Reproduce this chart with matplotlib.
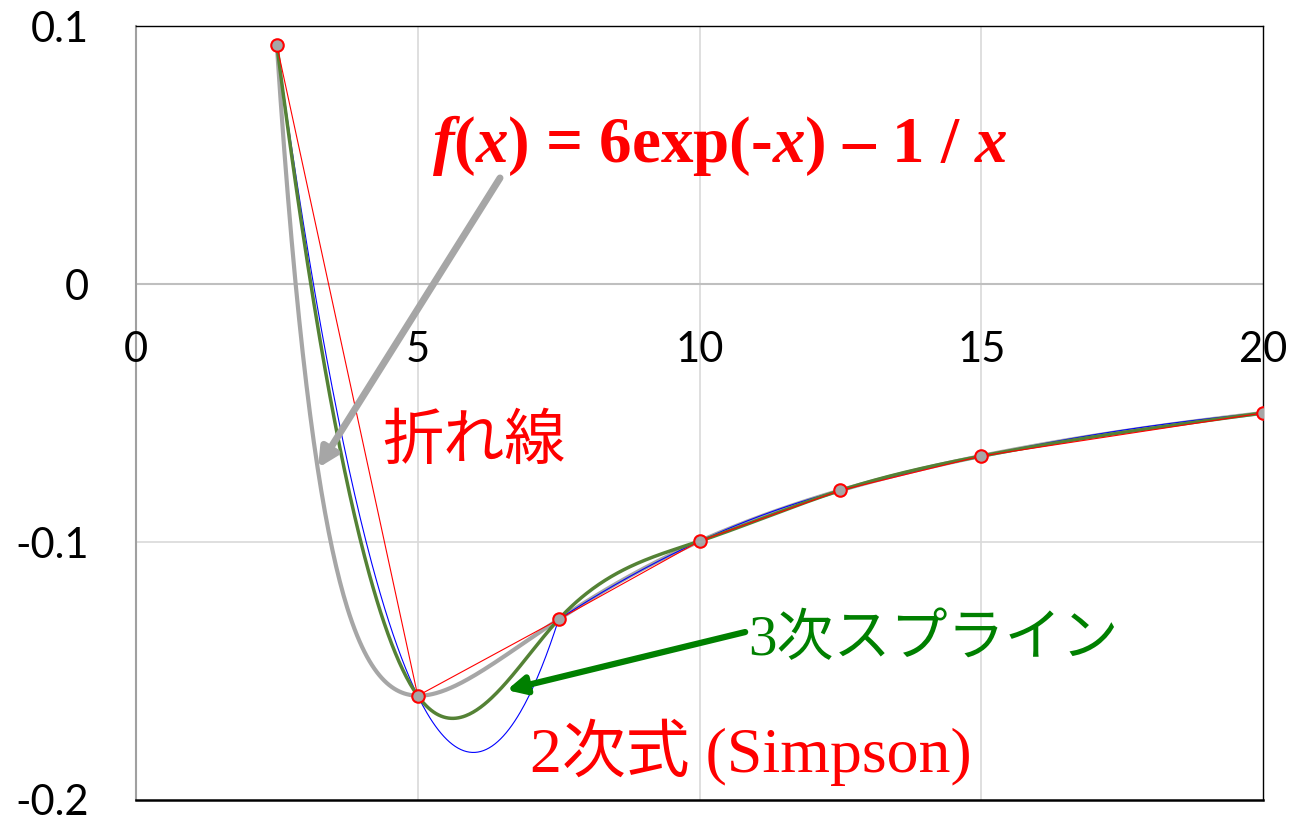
import numpy as np
import matplotlib
matplotlib.use("Agg")
import matplotlib.pyplot as plt

# sample nodes of f(x) = 6exp(-x) - 1/x
node_x = [2.5, 5.0, 7.5, 10.0, 12.5, 15.0, 20.0]
node_y = [0.0925, -0.1596, -0.1300, -0.0997, -0.0800, -0.0667, -0.0500]
# end slope used for the spline at the left end
spline_left_slope = -0.17

x_ticks = [0, 5, 10, 15, 20]
x_tick_labels = ["0", "5", "10", "15", "20"]
y_ticks = [-0.2, -0.1, 0.0, 0.1]
y_tick_labels = ["-0.2", "-0.1", "0", "0.1"]

plt.rcParams['mathtext.fontset'] = 'custom'
plt.rcParams['mathtext.rm'] = 'Liberation Serif:bold'
plt.rcParams['mathtext.it'] = 'Liberation Serif:bold:italic'
plt.rcParams['mathtext.bf'] = 'Liberation Serif:bold'


def f(x):
    return 6 * np.exp(-x) - 1 / x


def cubic_spline(xk, yk, xs, s0):
    # left end clamped to slope s0, right end natural
    xk = np.asarray(xk); yk = np.asarray(yk)
    n = len(xk)
    h = np.diff(xk)
    A = np.zeros((n, n)); r = np.zeros(n)
    A[0, 0] = 2 * h[0]; A[0, 1] = h[0]
    r[0] = 6 * ((yk[1] - yk[0]) / h[0] - s0)
    A[-1, -1] = 1
    for i in range(1, n - 1):
        A[i, i - 1] = h[i - 1]
        A[i, i] = 2 * (h[i - 1] + h[i])
        A[i, i + 1] = h[i]
        r[i] = 6 * ((yk[i + 1] - yk[i]) / h[i] - (yk[i] - yk[i - 1]) / h[i - 1])
    M = np.linalg.solve(A, r)
    idx = np.clip(np.searchsorted(xk, xs) - 1, 0, n - 2)
    x0 = xk[idx]; x1 = xk[idx + 1]; hh = x1 - x0
    t0 = x1 - xs; t1 = xs - x0
    return (M[idx] * t0**3 / (6 * hh) + M[idx + 1] * t1**3 / (6 * hh)
            + (yk[idx] / hh - M[idx] * hh / 6) * t0
            + (yk[idx + 1] / hh - M[idx + 1] * hh / 6) * t1)


def simpson_pieces(xk, yk):
    # quadratic through each triple of nodes
    segs = []
    for i in range(0, len(xk) - 2, 2):
        c = np.polyfit(xk[i:i + 3], yk[i:i + 3], 2)
        xs = np.linspace(xk[i], xk[i + 2], 200)
        segs.append((xs, np.polyval(c, xs)))
    return segs


fig = plt.figure(figsize=(12.91, 8.17), dpi=100)
ax = fig.add_axes([136 / 1291, 1 - 800 / 817, (1263 - 136) / 1291, (800 - 26) / 817])

ax.set_xlim(0, 20)
ax.set_ylim(-0.2, 0.1)

# grid
for xv in x_ticks[1:-1]:
    ax.axvline(xv, color='#d9d9d9', lw=1.2, zorder=0)
ax.axhline(-0.1, color='#d9d9d9', lw=1.2, zorder=0)
ax.axhline(0.0, color='#bfbfbf', lw=1.5, zorder=0)

xs = np.linspace(node_x[0], node_x[-1], 800)
ax.plot(xs, f(xs), color='#a6a6a6', lw=3, zorder=2)
for sx, sy in simpson_pieces(node_x, node_y):
    ax.plot(sx, sy, color='#0000ff', lw=0.8, zorder=3)
ax.plot(xs, cubic_spline(node_x, node_y, xs, spline_left_slope),
        color='#548235', lw=2.5, zorder=4)
ax.plot(node_x, node_y, color='#ff0000', lw=0.8, zorder=5)
ax.plot(node_x, node_y, 'o', ms=9, mfc='#a6a6a6', mec='#ff0000', mew=1.5, zorder=6)

# axes frame
for side in ['top', 'right', 'bottom']:
    ax.spines[side].set_color('black')
ax.spines['top'].set_linewidth(1.0)
ax.spines['right'].set_linewidth(1.0)
ax.spines['bottom'].set_linewidth(1.8)
ax.spines['left'].set_color('#a0a0a0')
ax.spines['left'].set_linewidth(1.5)

ax.set_xticks([])
ax.set_yticks(y_ticks)
ax.set_yticklabels(y_tick_labels, fontfamily='Lato', fontsize=30)
ax.tick_params(axis='y', length=0, pad=34)
for xv, lab in zip(x_ticks, x_tick_labels):
    ax.text(xv, -0.0256, lab, ha='center', va='center', fontfamily='Lato', fontsize=30)

# annotations
ax.text(5.25, 0.0473, r"$\mathit{f}(\mathit{x})$ = 6exp(-$\mathit{x}$) – 1 / $\mathit{x}$",
        color='#ff0000', fontfamily='Liberation Serif', fontweight='bold', fontsize=46.8,
        ha='left', va='baseline')
ax.annotate('', xy=(3.23, -0.0713), xytext=(6.46, 0.0411),
            arrowprops=dict(arrowstyle='-|>,head_length=1.1,head_width=0.55',
                            color='#a6a6a6', lw=5, shrinkA=0, shrinkB=0), zorder=7)
ax.text(4.37, -0.0612, "折れ線", color='#ff0000', fontfamily='Noto Sans CJK JP',
        fontsize=44, ha='left', va='center')
ax.text(10.86, -0.1382, "3次スプライン", color='#008000',
        fontfamily=['Liberation Serif', 'Noto Sans CJK JP'], fontsize=41,
        ha='left', va='center')
ax.annotate('', xy=(6.58, -0.1574), xytext=(10.81, -0.1349),
            arrowprops=dict(arrowstyle='-|>,head_length=1.1,head_width=0.55',
                            color='#008000', lw=4.5, shrinkA=0, shrinkB=0), zorder=7)
ax.text(6.99, -0.1815, "2次式 (Simpson)", color='#ff0000',
        fontfamily=['Liberation Serif', 'Noto Sans CJK JP'], fontsize=46,
        ha='left', va='center')

fig.savefig("out.png", dpi=100)
